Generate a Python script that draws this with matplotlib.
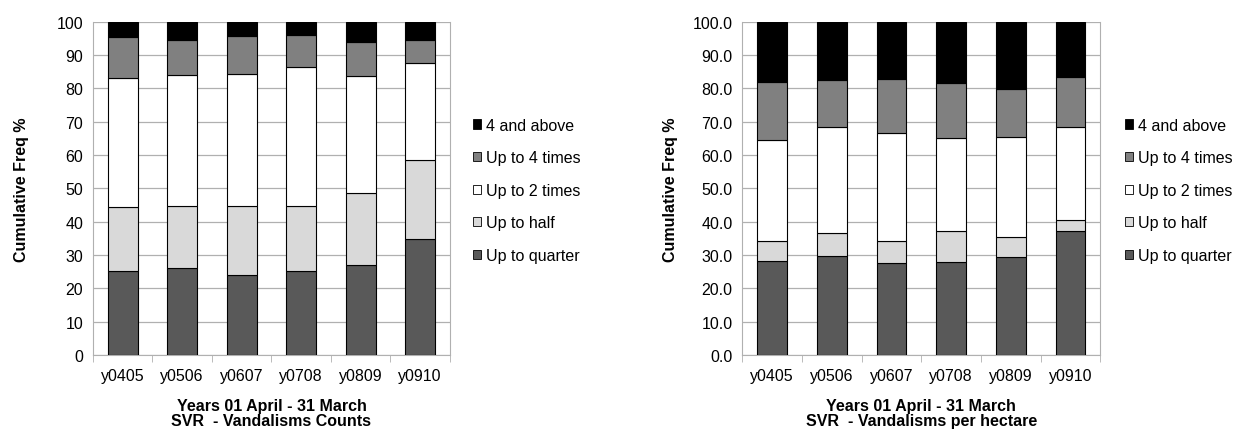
import numpy as np
import matplotlib.pyplot as plt
from matplotlib.patches import Patch

plt.rcParams['font.family'] = ['Liberation Sans', 'DejaVu Sans']

years = ['y0405', 'y0506', 'y0607', 'y0708', 'y0809', 'y0910']
series = ['Up to quarter', 'Up to half', 'Up to 2 times', 'Up to 4 times', '4 and above']
colors = ['#595959', '#d9d9d9', '#ffffff', '#808080', '#000000']

# cumulative tops (counts)
cnt_quarter = [25.3, 26.0, 23.9, 25.1, 26.9, 34.7]
cnt_half = [44.5, 44.8, 44.7, 44.8, 48.7, 58.6]
cnt_2times = [83.1, 84.1, 84.4, 86.4, 83.8, 87.5]
cnt_4times = [95.5, 94.5, 95.7, 96.0, 93.9, 94.5]
cnt_above = [100, 100, 100, 100, 100, 100]

# cumulative tops (per hectare)
ha_quarter = [28.2, 29.8, 27.7, 27.9, 29.5, 37.3]
ha_half = [34.2, 36.6, 34.2, 37.3, 35.4, 40.6]
ha_2times = [64.4, 68.5, 66.6, 65.1, 65.3, 68.3]
ha_4times = [81.8, 82.4, 82.7, 81.5, 79.7, 83.3]
ha_above = [100, 100, 100, 100, 100, 100]

fs = 11.5
fig = plt.figure(figsize=(12.35, 4.31), dpi=100)


def draw(ax, tops, fmt, subtitle, legend_x):
    x = np.arange(len(years))
    bottom = np.zeros(len(years))
    for name, col, top in zip(series, colors, tops):
        top = np.array(top, dtype=float)
        ax.bar(x, top - bottom, 0.5, bottom=bottom, color=col,
               edgecolor='black', linewidth=0.8, zorder=3)
        bottom = top
    ax.set_xlim(-0.5, len(years) - 0.5)
    ax.set_ylim(0, 100)
    ax.set_yticks(np.arange(0, 101, 10))
    ax.set_yticklabels([fmt % v for v in range(0, 101, 10)], fontsize=fs)
    ax.yaxis.grid(True, color='#b0b0b0', linewidth=0.9, zorder=0)
    ax.set_xticks(x)
    ax.set_xticklabels(years, fontsize=fs)
    ax.tick_params(axis='x', length=0, pad=9)
    ax.tick_params(axis='y', length=0, pad=7)
    ax.set_xticks(np.arange(-0.5, len(years)), minor=True)
    ax.tick_params(axis='x', which='minor', length=5, color='#b0b0b0')
    for s in ['left', 'right', 'bottom']:
        ax.spines[s].set_color('#b0b0b0')
    ax.spines['top'].set_visible(False)
    ax.set_ylabel('Cumulative Freq %', fontsize=fs, fontweight='bold')
    ax.yaxis.set_label_coords(-0.18, 0.5)
    ax.set_xlabel('Years 01 April - 31 March\nSVR  - ' + subtitle,
                  fontsize=fs, fontweight='bold', labelpad=11, linespacing=1.05)
    handles = [Patch(facecolor=c, edgecolor='black', linewidth=0.6, label=n)
               for n, c in zip(series, colors)][::-1]
    fig.legend(handles=handles, loc='upper left', bbox_to_anchor=(legend_x, 0.758),
               frameon=False, fontsize=fs, handlelength=0.5, handleheight=0.5,
               handletextpad=0.35, labelspacing=1.1)


ax1 = fig.add_axes([0.0753, 0.174, 0.289, 0.773])
draw(ax1, [cnt_quarter, cnt_half, cnt_2times, cnt_4times, cnt_above], '%d',
     'Vandalisms Counts', 0.371)

ax2 = fig.add_axes([0.601, 0.174, 0.290, 0.773])
draw(ax2, [ha_quarter, ha_half, ha_2times, ha_4times, ha_above], '%.1f',
     'Vandalisms per hectare', 0.899)

fig.savefig('out.png', dpi=100)
